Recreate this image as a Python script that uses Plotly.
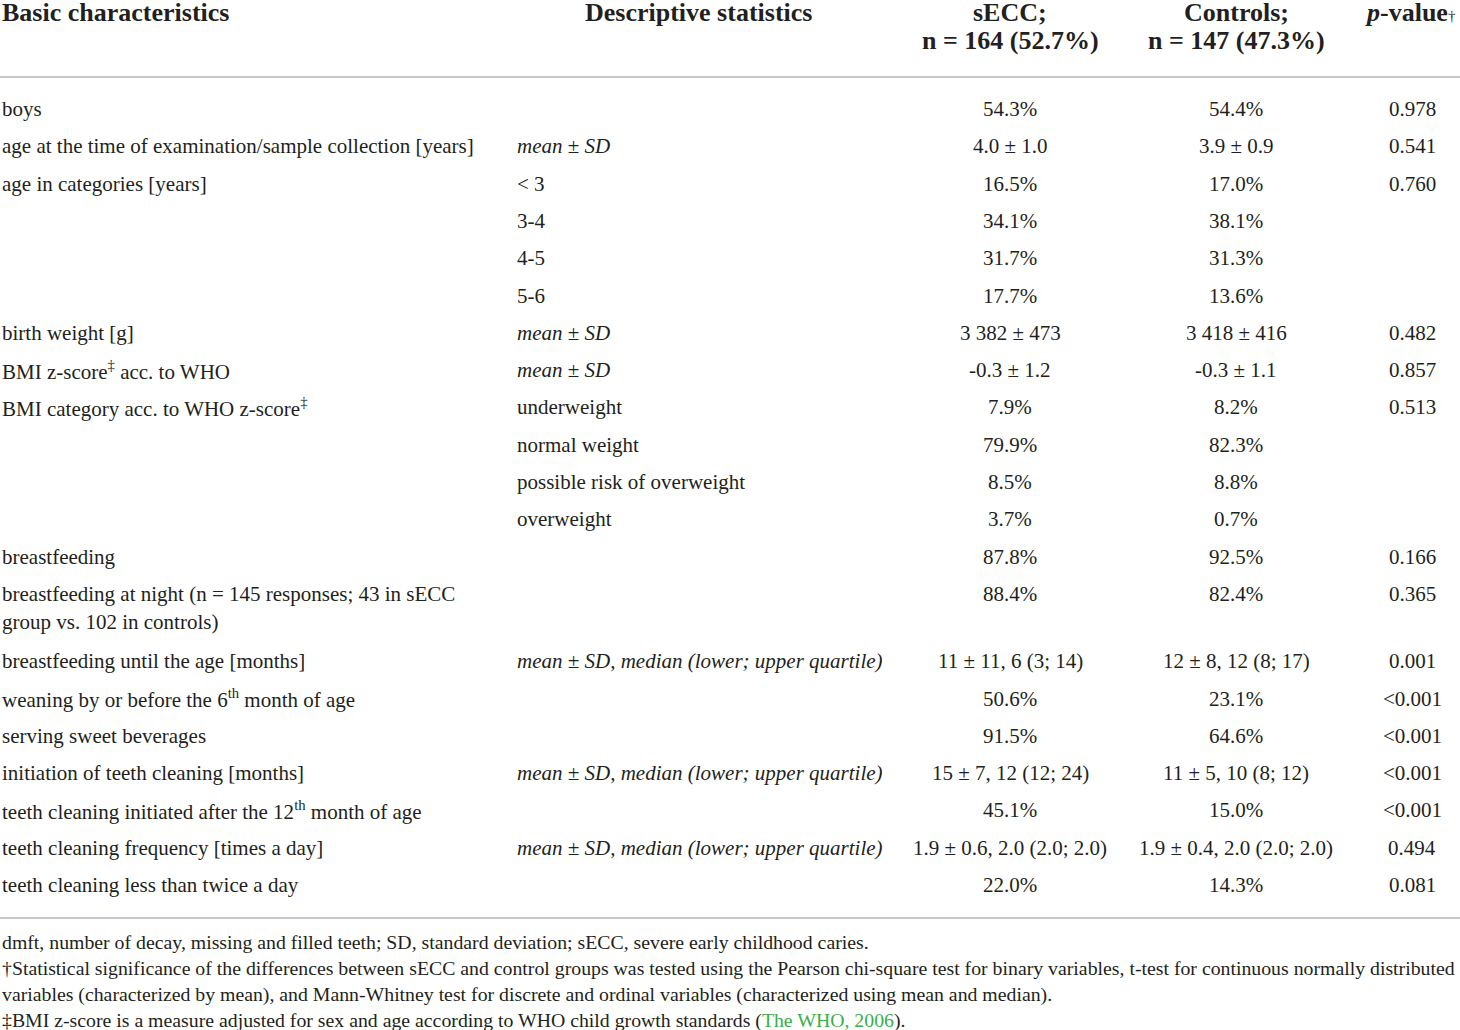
import plotly.graph_objects as go

# Table content
labels = [
    "boys",
    "age at the time of examination/sample collection [years]",
    "age in categories [years]",
    "", "", "",
    "birth weight [g]",
    "BMI z-score<sup>‡</sup> acc. to WHO",
    "BMI category acc. to WHO z-score<sup>‡</sup>",
    "", "", "",
    "breastfeeding",
    "breastfeeding at night (n = 145 responses; 43 in sECC<br>group vs. 102 in controls)",
    "breastfeeding until the age [months]",
    "weaning by or before the 6<sup>th</sup> month of age",
    "serving sweet beverages",
    "initiation of teeth cleaning [months]",
    "teeth cleaning initiated after the 12<sup>th</sup> month of age",
    "teeth cleaning frequency [times a day]",
    "teeth cleaning less than twice a day",
]
desc = [
    "", "<i>mean</i> ± <i>SD</i>", "< 3", "3-4", "4-5", "5-6",
    "<i>mean</i> ± <i>SD</i>", "<i>mean</i> ± <i>SD</i>",
    "underweight", "normal weight", "possible risk of overweight", "overweight",
    "", "",
    "<i>mean ± SD, median (lower; upper quartile)</i>", "", "",
    "<i>mean ± SD, median (lower; upper quartile)</i>", "",
    "<i>mean ± SD, median (lower; upper quartile)</i>", "",
]
secc = [
    "54.3%", "4.0 ± 1.0", "16.5%", "34.1%", "31.7%", "17.7%",
    "3 382 ± 473", "-0.3 ± 1.2", "7.9%", "79.9%", "8.5%", "3.7%",
    "87.8%", "88.4%", "11 ± 11, 6 (3; 14)", "50.6%", "91.5%",
    "15 ± 7, 12 (12; 24)", "45.1%", "1.9 ± 0.6, 2.0 (2.0; 2.0)", "22.0%",
]
controls = [
    "54.4%", "3.9 ± 0.9", "17.0%", "38.1%", "31.3%", "13.6%",
    "3 418 ± 416", "-0.3 ± 1.1", "8.2%", "82.3%", "8.8%", "0.7%",
    "92.5%", "82.4%", "12 ± 8, 12 (8; 17)", "23.1%", "64.6%",
    "11 ± 5, 10 (8; 12)", "15.0%", "1.9 ± 0.4, 2.0 (2.0; 2.0)", "14.3%",
]
pvals = [
    "0.978", "0.541", "0.760", "", "", "",
    "0.482", "0.857", "0.513", "", "", "",
    "0.166", "0.365", "0.001", "<0.001", "<0.001",
    "<0.001", "<0.001", "0.494", "0.081",
]
footnotes = [
    "dmft, number of decay, missing and filled teeth; SD, standard deviation; sECC, severe early childhood caries.",
    "†Statistical significance of the differences between sECC and control groups was tested using the Pearson chi-square test for binary variables, t-test for continuous normally distributed",
    "variables (characterized by mean), and Mann-Whitney test for discrete and ordinal variables (characterized using mean and median).",
    "‡BMI z-score is a measure adjusted for sex and age according to WHO child growth standards (<span style='color:#3aae49'>The WHO, 2006</span>).",
]

W, H = 1460, 1030
FONT = "Liberation Serif"
INK = "#231f20"
RULE = "#c8c8c8"

col_label_x = 0
col_desc_x = 515
col_secc_x = 1010
col_ctrl_x = 1236
col_p_x = 1412

row_top = 109
row_step = 37.3
line_step = 28

BODY = 21
HEAD = 26
NOTE = 19.8

fig = go.Figure()
ann = []


def add(x, y, text, anchor="left", size=BODY, bold=False):
    if bold:
        text = "<b>" + text + "</b>"
    ann.append(dict(x=x, y=y, xref="x", yref="y", text=text, showarrow=False,
                    xanchor=anchor, yanchor="middle", align=anchor,
                    font=dict(family=FONT, size=size, color=INK)))


# header
add(col_label_x, 12, "Basic characteristics", size=HEAD, bold=True)
add(698, 12, "Descriptive statistics", "center", size=HEAD, bold=True)
add(col_secc_x, 12, "sECC;", "center", size=HEAD, bold=True)
add(col_secc_x, 40, "n = 164 (52.7%)", "center", size=HEAD, bold=True)
add(col_ctrl_x, 12, "Controls;", "center", size=HEAD, bold=True)
add(col_ctrl_x, 40, "n = 147 (47.3%)", "center", size=HEAD, bold=True)
add(1458, 12, "<b><i>p</i>-value</b><span style='font-size:15px'>†</span>", "right", size=HEAD)

# body rows
y = row_top
for lab, d, s, c, p in zip(labels, desc, secc, controls, pvals):
    parts = lab.split("<br>")
    for k, part in enumerate(parts):
        if part:
            add(col_label_x, y + k * line_step, part)
    if d:
        add(col_desc_x, y, d)
    add(col_secc_x, y, s, "center")
    add(col_ctrl_x, y, c, "center")
    if p:
        add(col_p_x, y, p, "center")
    y += row_step + (len(parts) - 1) * (row_step - 7.3)

bottom_rule = y - row_step + 33

# footnotes
for k, fn in enumerate(footnotes):
    add(0, bottom_rule + 24 + k * 26, fn, size=NOTE)

fig.update_layout(
    annotations=ann,
    shapes=[
        dict(type="line", xref="x", yref="y", x0=0, x1=W, y0=77, y1=77,
             line=dict(color=RULE, width=2)),
        dict(type="line", xref="x", yref="y", x0=0, x1=W, y0=bottom_rule, y1=bottom_rule,
             line=dict(color=RULE, width=2)),
    ],
    xaxis=dict(range=[0, W], visible=False, fixedrange=True),
    yaxis=dict(range=[H, 0], visible=False, fixedrange=True),
    width=W, height=H,
    margin=dict(l=0, r=0, t=0, b=0),
    paper_bgcolor="white", plot_bgcolor="white",
    showlegend=False,
)

fig.write_html("out.html", config={"displayModeBar": False},
               post_script="document.body.style.margin='0';")
